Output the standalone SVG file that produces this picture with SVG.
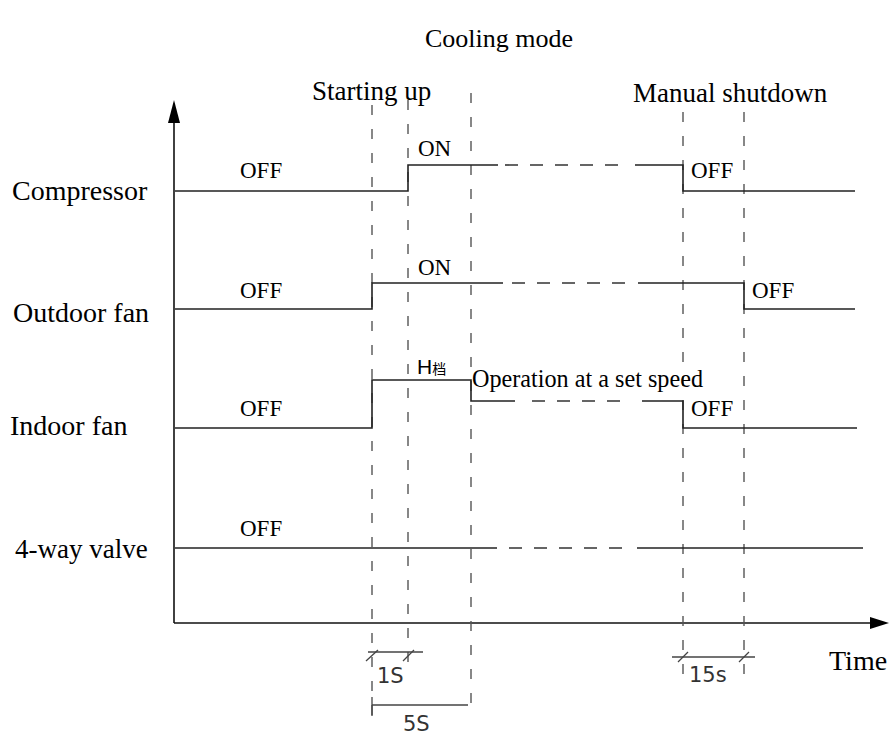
<svg xmlns="http://www.w3.org/2000/svg" width="889" height="736" viewBox="0 0 889 736">
<style>
.t{font-family:"Liberation Serif","Times New Roman",serif;fill:#000}
.big{font-size:27px}
.lab{font-size:23px}
.cad{font-family:"DejaVu Sans","Liberation Sans",sans-serif;font-size:21px;fill:#333}
.sig{stroke:#222;stroke-width:1.6;fill:none}
.dsig{stroke:#333;stroke-width:1.6;fill:none;stroke-dasharray:13 12}
.vd{stroke:#555;stroke-width:1.4;fill:none;stroke-dasharray:10 14}
.ax{stroke:#111;stroke-width:1.6;fill:none}
.dim{stroke:#444;stroke-width:1.3;fill:none}
</style>
<rect width="889" height="736" fill="#fff"/>
<g id="axes">
<line class="ax" x1="174" y1="623" x2="174" y2="120"/>
<polygon points="174,100 168,123 180,123" fill="#000"/>
<line class="ax" x1="174" y1="623" x2="872" y2="623"/>
<polygon points="889,623 870,617 870,629" fill="#000"/>
</g>
<g id="titles">
<text class="t" x="425" y="47" font-size="26">Cooling mode</text>
<text class="t big" x="312" y="100">Starting up</text>
<text class="t big" x="633" y="102">Manual shutdown</text>
<text class="t" x="829" y="670" font-size="28">Time</text>
</g>
<g id="guides">
<line class="vd" x1="372" y1="105" x2="372" y2="717"/>
<line class="vd" x1="408" y1="100" x2="408" y2="676"/>
<line class="vd" x1="471" y1="93" x2="471" y2="717"/>
<line class="vd" x1="683" y1="112" x2="683" y2="686"/>
<line class="vd" x1="744" y1="112" x2="744" y2="686"/>
</g>
<g id="compressor">
<text class="t" x="12" y="200" font-size="28">Compressor</text>
<text class="t lab" x="240" y="178">OFF</text>
<text class="t lab" x="418" y="156">ON</text>
<text class="t lab" x="691" y="178">OFF</text>
<polyline class="sig" points="175,191 408,191 408,165 498,165"/>
<line class="dsig" x1="505" y1="165" x2="625" y2="165"/>
<polyline class="sig" points="635,165 683,165 683,191 855,191"/>
</g>
<g id="outdoor-fan">
<text class="t" x="13" y="322" font-size="28">Outdoor fan</text>
<text class="t lab" x="240" y="298">OFF</text>
<text class="t lab" x="418" y="275">ON</text>
<text class="t lab" x="752" y="298">OFF</text>
<polyline class="sig" points="175,309 372,309 372,283 503,283"/>
<line class="dsig" x1="512" y1="283" x2="630" y2="283"/>
<polyline class="sig" points="638,283 744,283 744,309 855,309"/>
</g>
<g id="indoor-fan">
<text class="t" x="10" y="435" font-size="28">Indoor fan</text>
<text class="t lab" x="240" y="416">OFF</text>
<text x="417" y="374" font-family="'Liberation Sans','Noto Sans CJK SC',sans-serif" font-size="21" fill="#000">H<tspan font-size="14">档</tspan></text>
<text class="t" x="472" y="387" font-size="24.2">Operation at a set speed</text>
<text class="t lab" x="691" y="416">OFF</text>
<polyline class="sig" points="175,428 372,428 372,380 471,380 471,401 515,401"/>
<line class="dsig" x1="532" y1="401" x2="630" y2="401"/>
<polyline class="sig" points="642,401 683,401 683,428 857,428"/>
</g>
<g id="four-way-valve">
<text class="t big" x="15" y="558">4-way valve</text>
<text class="t lab" x="240" y="536">OFF</text>
<line class="sig" x1="175" y1="548" x2="497" y2="548"/>
<line class="dsig" x1="509" y1="548" x2="630" y2="548"/>
<line class="sig" x1="637" y1="548" x2="863" y2="548"/>
</g>
<g id="dimensions">
<line class="dim" x1="368" y1="652" x2="423" y2="652"/>
<line class="dim" x1="366" y1="661" x2="378" y2="650"/>
<line class="dim" x1="403" y1="661" x2="414" y2="650"/>
<text class="cad" x="377" y="683">1S</text>
<line class="dim" x1="372" y1="705" x2="468" y2="705"/>
<line class="dim" x1="372" y1="697" x2="372" y2="716"/>
<text class="cad" x="403" y="731">5S</text>
<line class="dim" x1="672" y1="657" x2="755" y2="657"/>
<line class="dim" x1="678" y1="662" x2="688" y2="652"/>
<line class="dim" x1="739" y1="662" x2="749" y2="652"/>
<text class="cad" x="689" y="682">15s</text>
</g>
</svg>
